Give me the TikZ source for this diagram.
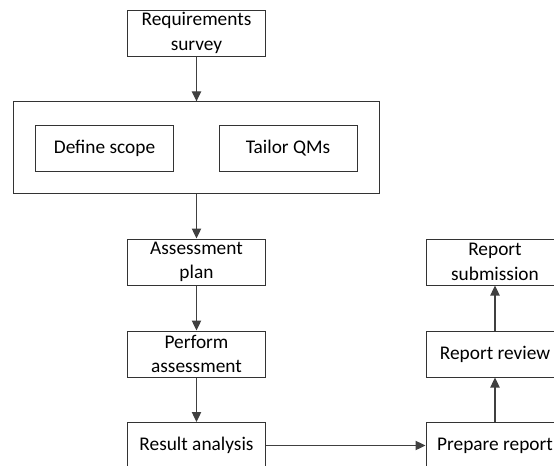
\documentclass[tikz,border=0pt]{standalone}
\usepackage{fontspec}
\setmainfont{Carlito}
\usetikzlibrary{arrows.meta}

\begin{document}
\begin{tikzpicture}
[x=0.75pt, y=-0.75pt,
box/.style={draw=black!80, line width=0.75pt, align=center, inner sep=0pt,
  minimum width=103.5pt, minimum height=34.5pt,
  font=\fontsize{14.5}{18.5}\selectfont},
group/.style={draw=black!80, line width=0.75pt, inner sep=0pt,
  minimum width=275pt, minimum height=68.5pt},
flow/.style={draw=black!75, line width=0.9pt, -{Triangle[length=7.5pt,width=7pt]}}]
\useasboundingbox (0,0) rectangle (554,465);
\clip (0,0) rectangle (554,465);
% left column
\node[box] (req) at (196.5,33) {Requirements\\survey};
\node[group] (stage) at (196.5,147.5) {};
\node[box] (scope) at (104.5,148) {Define scope};
\node[box] (tailor) at (288,148) {Tailor QMs};
\node[box] (plan) at (196.5,262) {Assessment\\plan};
\node[box] (perform) at (196.5,354) {Perform\\assessment};
\node[box] (result) at (196.5,445.5) {Result analysis};
% right column
\node[box] (prepare) at (495,445.5) {Prepare report};
\node[box] (review) at (495,354) {Report review};
\node[box] (submit) at (495,262) {Report\\submission};
\draw[flow] (req) -- (stage);
\draw[flow] (stage) -- (plan);
\draw[flow] (plan) -- (perform);
\draw[flow] (perform) -- (result);
\draw[flow] (result) -- (prepare);
\draw[flow] (prepare) -- (review);
\draw[flow] (review) -- (submit);
\end{tikzpicture}
\end{document}
